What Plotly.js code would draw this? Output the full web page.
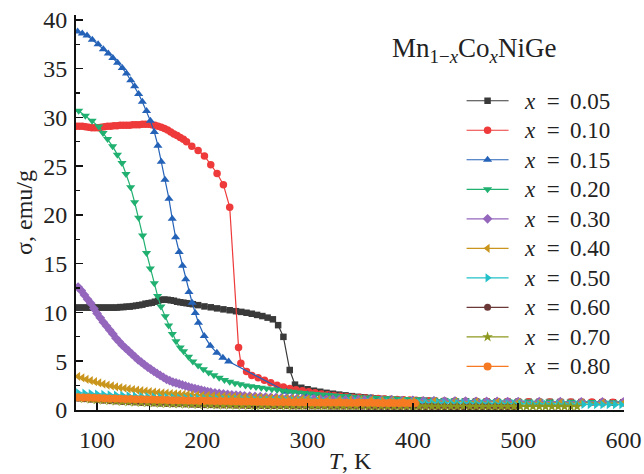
<!DOCTYPE html>
<html>
<head>
<meta charset="utf-8">
<script src="https://cdn.plot.ly/plotly-3.0.1.min.js"></script>
<style>html,body{margin:0;padding:0;background:#fff;}#chart{width:644px;height:474px;}</style>
</head>
<body>
<div id="chart"></div>
<script>
// Series data: [T (K), sigma (emu/g)]
const seriesNames = ["0.05","0.10","0.15","0.20","0.30","0.40","0.50","0.60","0.70","0.80"];

const x005 = [[80,10.5],[83,10.5],[86,10.5],[89,10.5],[92,10.5],[95,10.5],[98,10.5],[101,10.5],[104,10.5],[107,10.5],[110,10.5],[113,10.5],[116,10.5],[119,10.5],[122,10.55],[125,10.55],[128,10.6],[131,10.6],[134,10.65],[137,10.7],[140,10.75],[143,10.8],[146,10.9],[149,10.95],[152,11.0],[155,11.1],[158,11.2],[161,11.3],[164,11.32],[167,11.3],[170,11.25],[173,11.2],[176,11.1],[179,11.05],[182,11.0],[185,10.95],[188,10.9],[191,10.85],[196,10.75],[202,10.62],[208,10.53],[214,10.42],[220,10.32],[226,10.23],[232,10.13],[237,10.06],[242,9.97],[247,9.87],[252,9.75],[257,9.63],[262,9.47],[267,9.3],[272,8.7],[277,7.5],[283,4.1],[288,2.6],[294,2.28],[300,2.13],[306,1.98],[312,1.87],[318,1.76],[324,1.67],[330,1.58],[336,1.5],[342,1.42],[348,1.35],[354,1.3],[360,1.24],[366,1.19],[372,1.14],[378,1.1],[384,1.06],[390,1.03],[396,1.0],[402,0.98],[408,0.96],[414,0.94],[420,0.93],[430,0.91],[440,0.9],[450,0.89],[460,0.88],[470,0.87],[480,0.86],[490,0.85],[500,0.85],[510,0.84],[520,0.83],[530,0.83],[540,0.82],[550,0.82],[560,0.81],[570,0.8],[580,0.8],[590,0.79],[600,0.79]];

const x010 = [[80,29.1],[83,29.1],[86,29.1],[89,29.05],[92,29.0],[95,28.95],[98,28.95],[101,28.95],[104,29.0],[107,29.05],[110,29.1],[113,29.1],[116,29.15],[119,29.15],[122,29.2],[125,29.2],[128,29.2],[131,29.2],[134,29.25],[137,29.25],[140,29.25],[143,29.3],[146,29.3],[149,29.3],[152,29.25],[155,29.2],[158,29.1],[161,29.0],[164,28.85],[167,28.7],[170,28.5],[173,28.3],[176,28.15],[179,27.95],[182,27.75],[185,27.5],[190,27.05],[196,26.6],[202,26.05],[208,25.15],[214,24.25],[220,23.1],[226,20.8],[234.4,6.4],[236.6,4.8],[242,3.95],[247,3.55],[253,3.3],[259,3.05],[265,2.8],[271,2.55],[277,2.35],[283,2.2],[289,2.08],[295,1.98],[301,1.88],[307,1.76],[313,1.65],[319,1.56],[325,1.48],[331,1.42],[337,1.37],[343,1.32],[349,1.28],[355,1.24],[361,1.2],[367,1.17],[373,1.14],[379,1.11],[385,1.08],[391,1.05],[397,1.03],[403,1.0],[409,0.98],[415,0.96],[421,0.95],[430,0.93],[440,0.91],[450,0.9],[460,0.89],[470,0.88],[480,0.87],[490,0.86],[500,0.85],[510,0.84],[520,0.84],[530,0.83],[540,0.83],[550,0.82],[560,0.82],[570,0.81],[580,0.81],[590,0.8],[600,0.8]];

const x015 = [[81.5,38.8],[86,38.6],[90.5,38.4],[95.5,37.96],[101,37.5],[106,37.0],[110.7,36.56],[115,36.1],[119.5,35.6],[124,35.06],[128,34.5],[132,33.8],[135.7,33.2],[139.5,32.4],[143,31.6],[147,30.65],[150.6,29.66],[154.4,28.5],[157.8,27.1],[161,25.45],[164.5,23.6],[168.3,21.65],[171.4,19.6],[174.6,17.7],[178,16.2],[181.2,14.8],[184.2,13.4],[187.3,12.1],[190.3,11.0],[193.3,9.95],[196.3,8.95],[201.8,7.6],[207.5,6.6],[213.8,5.86],[219.5,5.35],[225,4.97],[280,1.88],[300,1.62],[320,1.45],[340,1.33],[360,1.23],[380,1.14],[400,1.07],[420,1.01],[440,0.97],[460,0.93],[480,0.9],[500,0.87],[520,0.85],[540,0.83],[560,0.81],[580,0.8],[600,0.78]];

const x020 = [[82.5,30.69],[88.9,30.17],[95.3,29.66],[101.6,29.08],[105.7,28.4],[110,27.79],[114.8,27.03],[119.3,26.18],[123.7,25.33],[127.5,24.2],[131.9,22.83],[135.7,21.3],[139.5,19.7],[143.3,17.9],[147,16.1],[150.6,14.5],[154.4,13.0],[157.5,11.7],[160.7,10.6],[164.8,9.6],[168,8.66],[171.5,7.8],[175,7.05],[179,6.4],[182.2,6.02],[186.9,5.45],[191,4.97],[196,4.55],[201,4.18],[206,3.85],[211,3.56],[216,3.3],[221,3.08],[226,2.9],[231,2.75],[236,2.63],[241,2.52],[246,2.43],[251,2.35],[256,2.27],[261,2.2],[266,2.13],[271,2.05],[276,1.98],[281,1.92],[286,1.86],[291,1.8],[296,1.75],[302,1.7],[308,1.64],[314,1.58],[320,1.53],[326,1.48],[332,1.44],[338,1.4],[344,1.36],[350,1.32],[356,1.29],[362,1.26],[368,1.23],[374,1.2],[380,1.17],[386,1.15],[392,1.13],[398,1.11],[404,1.09],[410,1.07],[420,1.04],[430,1.01],[440,0.99],[450,0.97],[460,0.95],[470,0.93],[480,0.92],[490,0.9],[500,0.89],[510,0.88],[520,0.87],[530,0.86],[540,0.85],[550,0.84],[560,0.83],[570,0.82],[580,0.81],[590,0.8],[600,0.8]];

const x030 = [[82,12.6],[85,12.25],[88,11.8],[91,11.35],[94,10.95],[97,10.4],[100,9.9],[103,9.45],[106,9.0],[109,8.6],[112,8.2],[115,7.8],[118,7.35],[121,7.0],[124,6.65],[127,6.35],[130,6.05],[133,5.75],[136,5.45],[139,5.15],[142,4.9],[145,4.65],[148,4.4],[151,4.18],[154,3.96],[157,3.75],[160,3.55],[163,3.35],[166,3.15],[169,3.0],[172,2.87],[175,2.77],[178,2.67],[181,2.57],[184,2.47],[187,2.37],[190,2.28],[193,2.2],[196,2.12],[199,2.04],[202,1.96],[205,1.88],[208,1.82],[212,1.76],[216,1.7],[220,1.65],[224,1.6],[228,1.56],[232,1.52],[236,1.49],[240,1.46],[245,1.43],[250,1.39],[255,1.36],[260,1.33],[265,1.3],[270,1.27],[275,1.24],[280,1.22],[285,1.2],[290,1.18],[295,1.16],[300,1.15],[306,1.13],[312,1.11],[318,1.1],[324,1.08],[330,1.07],[336,1.05],[342,1.04],[348,1.03],[354,1.02],[360,1.01],[370,0.99],[380,0.98],[390,0.96],[400,0.95],[410,0.94],[420,0.93],[430,0.92],[440,0.91],[450,0.9],[460,0.89],[470,0.88],[480,0.88],[490,0.87],[500,0.87],[520,0.86],[540,0.85],[560,0.84],[580,0.83],[600,0.82]];

const x040 = [[82,3.45],[86,3.3],[90,3.15],[94,3.02],[98,2.9],[102,2.78],[106,2.66],[110,2.56],[114,2.47],[118,2.38],[122,2.3],[126,2.23],[130,2.16],[134,2.1],[138,2.04],[142,1.98],[146,1.93],[150,1.88],[154,1.83],[158,1.79],[162,1.75],[166,1.72],[170,1.69],[174,1.66],[178,1.63],[182,1.6],[186,1.58],[190,1.56],[195,1.53],[200,1.5],[205,1.47],[210,1.45],[215,1.42],[220,1.4],[225,1.38],[230,1.36],[235,1.34],[240,1.32],[245,1.3],[250,1.28],[255,1.26],[260,1.24],[265,1.22],[270,1.2],[275,1.18],[280,1.17],[285,1.16],[290,1.14],[295,1.13],[300,1.12],[310,1.1],[320,1.07],[330,1.05],[340,1.03],[350,1.01],[360,0.99],[370,0.97],[380,0.95],[390,0.93],[400,0.91],[420,0.88],[440,0.85],[460,0.82],[480,0.8],[500,0.78],[520,0.76],[540,0.74],[560,0.72],[580,0.71],[600,0.7]];

const x050 = [[82,1.76],[88,1.72],[94,1.68],[100,1.64],[106,1.6],[112,1.56],[118,1.53],[124,1.5],[130,1.46],[136,1.43],[142,1.4],[148,1.37],[154,1.34],[160,1.32],[166,1.29],[172,1.27],[178,1.25],[184,1.23],[190,1.21],[196,1.19],[202,1.17],[208,1.15],[214,1.13],[220,1.11],[226,1.1],[232,1.08],[238,1.07],[244,1.05],[250,1.04],[256,1.02],[262,1.01],[268,1.0],[274,0.98],[280,0.97],[286,0.96],[292,0.95],[298,0.94],[304,0.93],[310,0.92],[316,0.91],[322,0.9],[328,0.89],[334,0.88],[340,0.87],[346,0.86],[352,0.85],[358,0.84],[364,0.83],[370,0.82],[376,0.81],[382,0.8],[388,0.79],[394,0.78],[400,0.77],[406,0.76],[412,0.75],[418,0.74],[424,0.73],[430,0.72],[436,0.71],[442,0.7],[448,0.69],[454,0.68],[460,0.67],[466,0.66],[472,0.66],[478,0.65],[484,0.64],[490,0.63],[496,0.63],[502,0.62],[508,0.61],[514,0.61],[520,0.6],[526,0.6],[532,0.59],[538,0.59],[544,0.58],[550,0.58],[556,0.57],[562,0.57],[568,0.56],[574,0.56],[580,0.55],[586,0.55],[592,0.55],[598,0.54]];

const x060 = [[82,1.2],[88,1.15],[94,1.1],[100,1.05],[106,1.0],[112,0.96],[118,0.92],[124,0.88],[130,0.84],[136,0.81],[142,0.78],[148,0.75],[154,0.72],[160,0.69],[166,0.67],[172,0.65],[178,0.63],[184,0.61],[190,0.59],[196,0.57],[202,0.55],[208,0.54],[214,0.52],[220,0.51],[226,0.5],[232,0.49],[238,0.48],[244,0.47],[250,0.46],[256,0.45],[262,0.44],[268,0.44],[274,0.43],[280,0.43],[286,0.42],[292,0.42],[298,0.41],[304,0.41],[310,0.4],[316,0.4],[322,0.39],[328,0.39],[334,0.39],[340,0.38],[346,0.38],[352,0.38],[358,0.37],[364,0.37],[370,0.37],[376,0.36],[382,0.36],[388,0.36],[394,0.36],[400,0.35],[406,0.35],[412,0.35],[418,0.35],[424,0.34],[430,0.34],[436,0.34],[442,0.34],[448,0.34],[454,0.33],[460,0.33],[466,0.33],[472,0.33],[478,0.33],[484,0.32],[490,0.32],[496,0.32]];

const x070 = [[82,1.22],[88,1.16],[94,1.1],[100,1.05],[106,1.0],[112,0.95],[118,0.91],[124,0.87],[130,0.83],[136,0.8],[142,0.77],[148,0.74],[154,0.71],[160,0.68],[166,0.66],[172,0.64],[178,0.62],[184,0.6],[190,0.58],[196,0.56],[202,0.55],[208,0.53],[214,0.52],[220,0.5],[226,0.49],[232,0.48],[238,0.47],[244,0.46],[250,0.45],[256,0.45],[262,0.44],[268,0.44],[274,0.43],[280,0.43],[286,0.42],[292,0.42],[298,0.42],[304,0.41],[310,0.41],[316,0.41],[322,0.4],[328,0.4],[334,0.4],[340,0.4],[346,0.39],[352,0.39],[358,0.39],[364,0.39],[370,0.39],[376,0.38],[382,0.38],[388,0.38],[394,0.38],[400,0.38],[406,0.38],[412,0.38],[418,0.37],[424,0.37],[430,0.37],[436,0.37],[442,0.37],[448,0.37],[454,0.37],[460,0.37],[466,0.36],[472,0.36],[478,0.36],[484,0.36],[490,0.36],[496,0.36],[502,0.36],[508,0.36],[514,0.36],[520,0.35],[526,0.35],[532,0.35],[538,0.35],[544,0.35],[550,0.35],[556,0.35]];

const x080 = [[82,1.31],[87,1.29],[92,1.27],[97,1.25],[102,1.23],[107,1.21],[112,1.19],[117,1.17],[122,1.16],[127,1.14],[132,1.13],[137,1.11],[142,1.1],[147,1.08],[152,1.07],[157,1.05],[162,1.04],[167,1.03],[172,1.01],[177,1.0],[182,0.99],[187,0.98],[192,0.97],[197,0.96],[202,0.95],[207,0.94],[212,0.93],[217,0.92],[222,0.91],[227,0.9],[232,0.89],[237,0.88],[242,0.87],[247,0.86],[252,0.85],[257,0.84],[262,0.84],[267,0.83],[272,0.82],[277,0.82],[282,0.81],[287,0.8],[292,0.8],[297,0.79],[302,0.79],[307,0.78],[312,0.78],[317,0.77],[322,0.77],[327,0.76],[332,0.76],[337,0.75],[342,0.75],[347,0.75],[352,0.74],[357,0.74],[362,0.74],[367,0.73],[372,0.73],[377,0.73],[382,0.72],[387,0.72],[392,0.72],[397,0.71],[402,0.71]];

const seriesData = [x005, x010, x015, x020, x030, x040, x050, x060, x070, x080];
const colors = ["#3a3a3a","#ee3a3a","#2462b8","#20b070","#9467bd","#c9951c","#22c0c8","#6b3838","#8c981e","#f57a22"];
const symbols = ["square","circle","triangle-up","triangle-down","diamond","triangle-left","triangle-right","circle","star","circle"];
const sizes = [6.5,7.5,8,8,7.5,8,8,7,8,8];

const FONT = "'Liberation Serif', 'Times New Roman', Times, serif";

const traces = seriesData.map((d, i) => ({
  x: d.map(p => p[0]),
  y: d.map(p => p[1]),
  type: "scatter",
  mode: "lines+markers",
  name: "<span style=\"font-size:23px\">\u00A0\u00A0<i>x</i>\u00A0\u00A0=\u00A0\u2009" + seriesNames[i] + "</span>",
  line: {color: colors[i], width: 1.2},
  marker: {color: colors[i], symbol: symbols[i], size: sizes[i], line: {width: 0}}
}));

const layout = {
  width: 644, height: 474,
  margin: {l: 76, r: 20, t: 15, b: 64},
  paper_bgcolor: "#fff", plot_bgcolor: "#fff",
  font: {family: FONT, size: 24, color: "#222"},
  showlegend: true,
  legend: {
    x: 0.7036, xanchor: "left", y: 0.833, yanchor: "top",
    font: {family: FONT, size: 20.4, color: "#222"},
    bgcolor: "rgba(0,0,0,0)", borderwidth: 0,
    itemwidth: 42, tracegroupgap: 0
  },
  xaxis: {
    range: [80, 600.5], dtick: 100, tick0: 0,
    showline: true, linewidth: 2, linecolor: "#111",
    ticks: "inside", ticklen: 7, tickwidth: 1.5, tickcolor: "#111",
    minor: {dtick: 50, ticks: "inside", ticklen: 4, tickwidth: 1.2, tickcolor: "#111"},
    showgrid: false, zeroline: false,
    tickfont: {family: FONT, size: 24, color: "#222"},
    ticklabelstandoff: 7,
    title: {text: "<i>T</i>, K", font: {family: FONT, size: 24, color: "#222"}, standoff: 2}
  },
  yaxis: {
    range: [0, 40.5], dtick: 5, tick0: 0,
    showline: true, linewidth: 2, linecolor: "#111",
    ticks: "inside", ticklen: 7, tickwidth: 1.5, tickcolor: "#111",
    minor: {dtick: 2.5, ticks: "inside", ticklen: 4, tickwidth: 1.2, tickcolor: "#111"},
    showgrid: false, zeroline: false,
    tickfont: {family: FONT, size: 24, color: "#222"},
    ticklabelstandoff: 2,
    title: {text: "σ, emu/g", font: {family: FONT, size: 24, color: "#222"}, standoff: 4}
  },
  annotations: [{
    xref: "paper", yref: "paper", x: (390 - 76) / 548, y: 1 - (50 - 15) / 395,
    xanchor: "left", yanchor: "middle", showarrow: false,
    text: "Mn<sub>1−<i>x</i></sub>Co<sub><i>x</i></sub>NiGe",
    font: {family: FONT, size: 27, color: "#222"}
  }]
};

Plotly.newPlot("chart", traces, layout, {displayModeBar: false, staticPlot: true});
</script>
</body>
</html>
